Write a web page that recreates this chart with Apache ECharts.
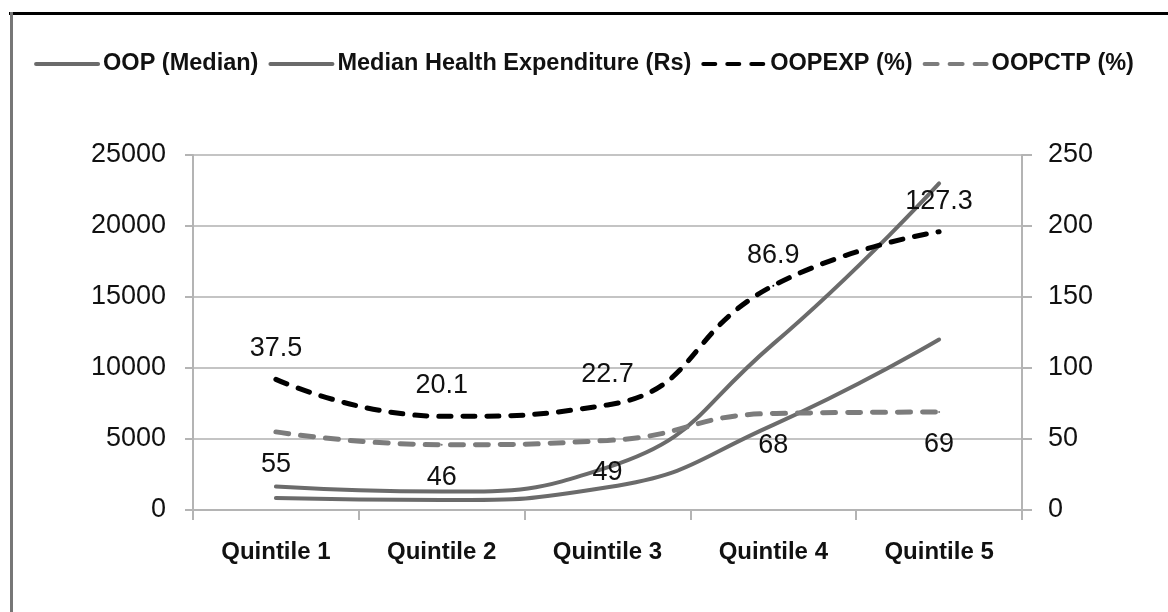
<!DOCTYPE html>
<html>
<head>
<meta charset="utf-8">
<script src="https://cdn.jsdelivr.net/npm/echarts@6/dist/echarts.min.js"></script>
<style>
html,body{margin:0;padding:0;background:#fff;}
#chart{width:1168px;height:612px;}
</style>
</head>
<body>
<div id="chart"></div>
<script>
var categories = ['Quintile 1', 'Quintile 2', 'Quintile 3', 'Quintile 4', 'Quintile 5'];
var oopMedian = [850, 700, 1600, 6000, 12000];
var medianHealthExp = [1650, 1300, 3000, 11700, 23000];
var oopExp = [92, 66, 74, 158, 196];
var oopCtp = [55, 46, 49, 68, 69];
var oopExpLabels = ['37.5', '20.1', '22.7', '86.9', '127.3'];
var leftTicks = {min: 0, max: 25000, interval: 5000};
var rightTicks = {min: 0, max: 250, interval: 50};

var FONT = "'Liberation Sans', Arial, sans-serif";
var chart = echarts.init(document.getElementById('chart'));
var gridColor = '#c4c4c4';
chart.setOption({
  animation: false,
  backgroundColor: '#fff',
  graphic: [
    {type: 'line', shape: {x1: 9, y1: 13.5, x2: 1168, y2: 13.5}, style: {stroke: '#000', lineWidth: 3}},
    {type: 'line', shape: {x1: 11.5, y1: 12, x2: 11.5, y2: 612}, style: {stroke: '#777', lineWidth: 3}}
  ],
  legend: {
    top: 47,
    left: 'center',
    itemWidth: 62,
    itemHeight: 14,
    itemGap: 10,
    itemStyle: {opacity: 0},
    lineStyle: {width: 4},
    textStyle: {fontFamily: FONT, fontSize: 23.5, fontWeight: 'bold', color: '#111'},
    data: ['OOP (Median)', 'Median Health Expenditure (Rs)', 'OOPEXP (%)', 'OOPCTP (%)']
  },
  grid: {left: 193, right: 146, top: 155, bottom: 102},
  xAxis: {
    type: 'category',
    data: categories,
    boundaryGap: true,
    axisLine: {lineStyle: {color: '#b4b4b4', width: 2}},
    axisTick: {show: true, length: 10, lineStyle: {color: '#b4b4b4', width: 2}},
    axisLabel: {fontFamily: FONT, fontSize: 24, fontWeight: 'bold', color: '#111', margin: 30}
  },
  yAxis: [
    {
      type: 'value', min: leftTicks.min, max: leftTicks.max, interval: leftTicks.interval,
      axisLine: {show: true, lineStyle: {color: '#b4b4b4', width: 2}},
      axisTick: {show: true, length: 8, lineStyle: {color: '#b4b4b4', width: 2}},
      splitLine: {show: true, lineStyle: {color: gridColor, width: 2}},
      axisLabel: {fontFamily: FONT, fontSize: 27, color: '#111', margin: 27, formatter: function (v) { return String(v); }}
    },
    {
      type: 'value', min: rightTicks.min, max: rightTicks.max, interval: rightTicks.interval,
      position: 'right',
      axisLine: {show: true, lineStyle: {color: '#b4b4b4', width: 2}},
      axisTick: {show: true, length: 10, lineStyle: {color: '#b4b4b4', width: 2}},
      splitLine: {show: false},
      axisLabel: {fontFamily: FONT, fontSize: 27, color: '#111', margin: 26, formatter: function (v) { return String(v); }}
    }
  ],
  series: [
    {
      name: 'OOP (Median)', type: 'line', yAxisIndex: 0, data: oopMedian,
      smooth: 0.5, symbol: 'none',
      lineStyle: {color: '#6b6b6b', width: 4, cap: 'round'},
      itemStyle: {color: '#6b6b6b'}
    },
    {
      name: 'Median Health Expenditure (Rs)', type: 'line', yAxisIndex: 0, data: medianHealthExp,
      smooth: 0.5, symbol: 'none',
      lineStyle: {color: '#6b6b6b', width: 4, cap: 'round'},
      itemStyle: {color: '#6b6b6b'}
    },
    {
      name: 'OOPEXP (%)', type: 'line', yAxisIndex: 1, data: oopExp,
      smooth: 0.5, symbol: 'circle', symbolSize: 2, showSymbol: true,
      lineStyle: {color: '#000', width: 5, type: [12, 12], cap: 'round'},
      itemStyle: {color: '#000'},
      label: {
        show: true, position: 'top', distance: 16,
        fontFamily: FONT, fontSize: 27, color: '#111',
        formatter: function (p) { return oopExpLabels[p.dataIndex]; }
      }
    },
    {
      name: 'OOPCTP (%)', type: 'line', yAxisIndex: 1, data: oopCtp,
      smooth: 0.5, symbol: 'circle', symbolSize: 2, showSymbol: true,
      lineStyle: {color: '#7c7c7c', width: 5, type: [13, 12], cap: 'round'},
      itemStyle: {color: '#7c7c7c'},
      label: {
        show: true, position: 'bottom', distance: 18,
        fontFamily: FONT, fontSize: 27, color: '#111'
      }
    }
  ]
});
</script>
</body>
</html>
